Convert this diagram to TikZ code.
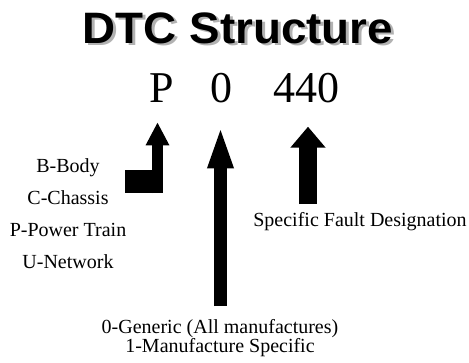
\documentclass[tikz,border=0pt]{standalone}
\usepackage{fontspec}
\setmainfont{Liberation Serif}
\newfontfamily\headfont{Liberation Sans}
\usetikzlibrary{arrows.meta}

\tikzset{
  every node/.style={inner sep=0pt},
  heading/.style={font=\headfont\bfseries\fontsize{33}{36}\selectfont, anchor=base, xscale=1.04},
  code/.style={font=\fontsize{33}{36}\selectfont, anchor=base},
  caption/.style={font=\fontsize{15}{#1}\selectfont, align=center},
  caption/.default=18,
  % block arrow: shaft width / head width / head length
  blockarrow/.style args={#1/#2/#3}{line width=#1, -{Triangle[width=#2, length=#3]}},
}

\begin{document}
\begin{tikzpicture}[x=0.75pt, y=-0.75pt]
\useasboundingbox (0,0) rectangle (469,362);

% Title with grey drop shadow
\node[heading, text=gray!60] (titleShadow) at (241,45.5) {DTC Structure};
\node[heading] (title) at (238,43) {DTC Structure};

% The code itself
\node[code] (codeP) at (162,102) {P};
\node[code] (codeZero) at (221,102) {0};
\node[code] (codeFault) at (306,102) {440};

% Captions
\node[caption=24] (systems) at (68,214) {B-Body\\C-Chassis\\P-Power Train\\U-Network};
\node[caption] (fault) at (360,222) {Specific Fault Designation};
\node[caption=14.25] (maker) at (220,338) {0-Generic (All manufactures)\\1-Manufacture Specific};

% Arrows up to each part of the code
\coordinate (systemFoot) at (157.5,193);
\coordinate (makerFoot) at (220.5,306);
\coordinate (faultFoot) at (308,204);
\fill (125,170) rectangle (163,193);
\draw[blockarrow=8.25pt/16.5pt/17.25pt, shorten >=15pt] (systemFoot) -- (systemFoot |- codeP.south);
\draw[blockarrow=9.75pt/17.25pt/32.25pt, shorten >=17pt] (makerFoot) -- (makerFoot |- codeZero.south);
\draw[blockarrow=13.5pt/25.5pt/15.75pt, shorten >=18pt] (faultFoot) -- (faultFoot |- codeFault.south);
\end{tikzpicture}
\end{document}
